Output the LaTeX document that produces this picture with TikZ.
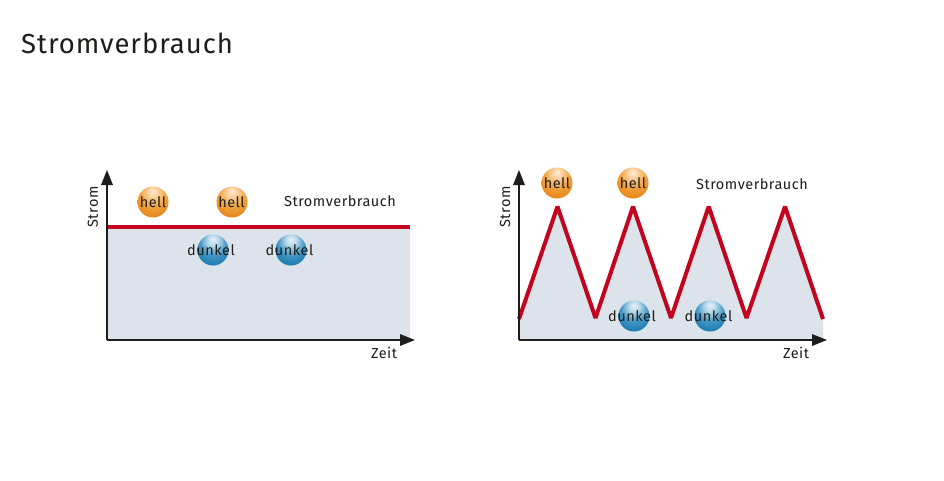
\documentclass[tikz,border=0pt]{standalone}
\usepackage{fontspec}
\setmainfont[LetterSpace=3.5]{Fira Sans}
\usetikzlibrary{arrows.meta}
\definecolor{ink}{HTML}{1D1D1B}
\definecolor{pale}{HTML}{DCE3EA}
\definecolor{redline}{HTML}{C2041E}
\pgfdeclareradialshading{hellshade}{\pgfpoint{0bp}{18bp}}{
  rgb(0bp)=(0.99,0.93,0.85);
  rgb(8bp)=(0.98,0.82,0.62);
  rgb(22bp)=(0.94,0.62,0.22);
  rgb(40bp)=(0.88,0.48,0.05);
  rgb(70bp)=(0.80,0.42,0.02)}
\pgfdeclareradialshading{dunkelshade}{\pgfpoint{0bp}{18bp}}{
  rgb(0bp)=(0.90,0.94,0.97);
  rgb(8bp)=(0.74,0.86,0.92);
  rgb(22bp)=(0.25,0.58,0.76);
  rgb(40bp)=(0.03,0.44,0.66);
  rgb(70bp)=(0.01,0.36,0.56)}
\tikzset{
  x=1pt,y=-1pt,
  lab/.style={font=\fontsize{14.5}{16}\selectfont,text=ink,inner sep=0pt,anchor=center},
  hellball/.style={circle,minimum size=31pt,inner sep=0pt,shading=hellshade},
  dunkelball/.style={circle,minimum size=31pt,inner sep=0pt,shading=dunkelshade},
  axisline/.style={draw=ink,line width=1.7pt,-{Triangle[length=15pt,width=11.5pt]}},
  curve/.style={draw=redline,line width=4pt,line cap=butt,line join=bevel},
}
\begin{document}
\begin{tikzpicture}
\useasboundingbox (0,0) rectangle (944,480);
\fill[white] (0,0) rectangle (944,480);
\node[anchor=base west,inner sep=0pt,text=ink,font=\fontsize{27.5}{30}\selectfont] (title) at (21,53) {Stromverbrauch};

% left chart
\fill[pale] (107,227) rectangle (410,340);
\coordinate (lo) at (107,340);
\coordinate (lx) at (415,340);
\coordinate (ly) at (107,170);
\coordinate (l1) at (107,226.5);
\coordinate (l2) at (410,226.5);
\draw[curve] (l1) -- (l2);
\draw[axisline] (lo) -- (lx);
\draw[axisline] (lo) -- (ly);
\node[hellball] (lab) at (153,202) {};
\node[lab] (la) at (153,202) {hell};
\node[hellball] (lbb) at (232,202) {};
\node[lab] (lb) at (231.5,202) {hell};
\node[dunkelball] (lcb) at (213,250) {};
\node[lab] (lc) at (211,250) {dunkel};
\node[dunkelball] (ldb) at (291,250) {};
\node[lab] (ld) at (289.5,250) {dunkel};
\node[lab] (lv) at (340,201.5) {Stromverbrauch};
\node[lab] (lz) at (384,353) {Zeit};
\node[lab,rotate=90] (ls) at (93,207) {Strom};

% right chart
\fill[pale] (519,340) -- (519,318) -- (557.5,206) -- (595.5,318) -- (633,206) -- (671,318) -- (708.7,206) -- (746.5,318) -- (785,206) -- (823,318) -- (823,340) -- cycle;
\coordinate (ro) at (519,340);
\coordinate (rx) at (827,340);
\coordinate (ry) at (519,170);
\draw[curve] (519,319) -- (557.5,206.5) -- (595.5,318) -- (633,206.5) -- (671,318) -- (708.7,206.5) -- (746.5,318) -- (785,206.5) -- (823,319);
\draw[axisline] (ro) -- (rx);
\draw[axisline] (ro) -- (ry);
\node[hellball] (rab) at (557,183) {};
\node[lab] (ra) at (557,183) {hell};
\node[hellball] (rbb) at (633,183) {};
\node[lab] (rb) at (633,183) {hell};
\node[dunkelball] (rcb) at (634,316) {};
\node[lab] (rc) at (632,316) {dunkel};
\node[dunkelball] (rdb) at (710,316) {};
\node[lab] (rd) at (708.5,316) {dunkel};
\node[lab] (rv) at (752,184) {Stromverbrauch};
\node[lab] (rz) at (796,353) {Zeit};
\node[lab,rotate=90] (rs) at (505,207) {Strom};
\end{tikzpicture}
\end{document}
